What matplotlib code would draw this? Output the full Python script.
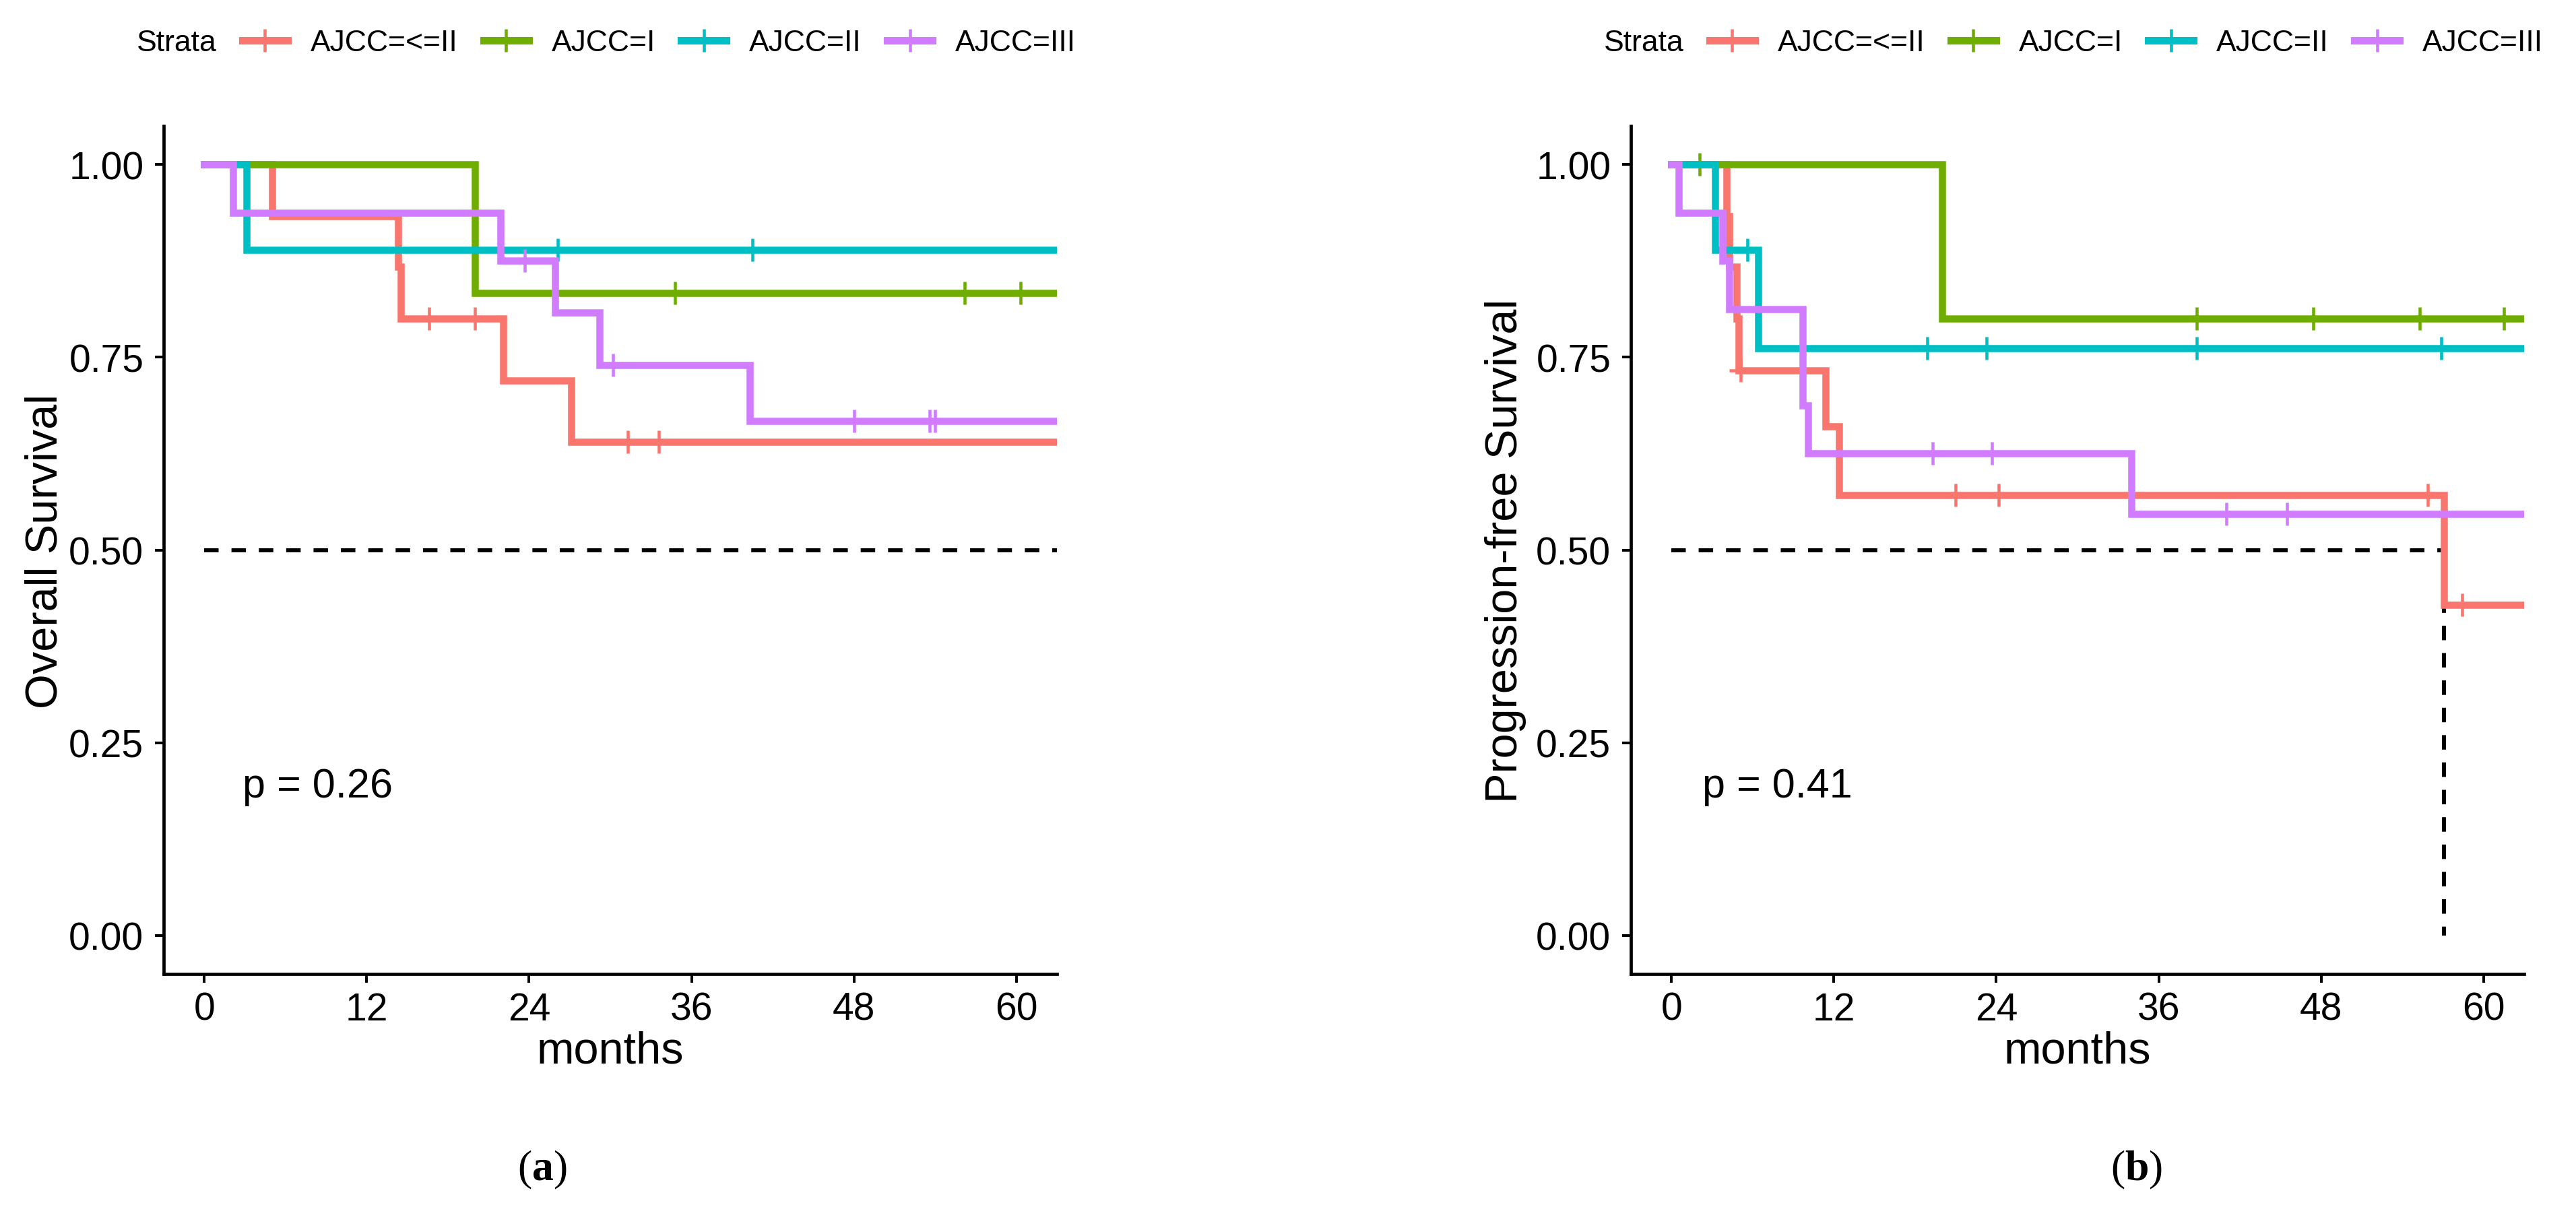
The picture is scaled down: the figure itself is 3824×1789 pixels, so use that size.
import numpy as np
import matplotlib.pyplot as plt
from matplotlib.lines import Line2D

plt.rcParams['font.family'] = ['Liberation Sans', 'DejaVu Sans']
plt.rcParams['mathtext.fontset'] = 'custom'
plt.rcParams['mathtext.rm'] = 'Liberation Serif'
plt.rcParams['mathtext.bf'] = 'Liberation Serif:bold'

W, H = 3824, 1790
DPI = 100

strata = ['AJCC=<=II', 'AJCC=I', 'AJCC=II', 'AJCC=III']
colors = ['#F8766D', '#6FAE00', '#00BFC4', '#D17CFF']

# overall survival: times of the steps and survival after each step
os_times = [
    [0, 5.0, 14.3, 14.5, 22.1, 27.1],
    [0, 20.0],
    [0, 3.1],
    [0, 2.15, 21.9, 25.9, 29.2, 40.3],
]
os_surv = [
    [1.0, 0.933, 0.867, 0.800, 0.720, 0.640],
    [1.0, 0.833],
    [1.0, 0.889],
    [1.0, 0.9375, 0.875, 0.808, 0.740, 0.667],
]
os_cens = [
    [16.6, 20.0, 31.3, 33.6],
    [34.8, 56.2, 60.3],
    [26.1, 40.5],
    [23.7, 30.2, 48.0, 53.6, 54.0],
]

# progression-free survival
pfs_times = [
    [0, 4.05, 4.25, 4.8, 4.97, 11.4, 12.4, 57.1],
    [0, 20.0],
    [0, 3.2, 6.4],
    [0, 0.55, 3.75, 4.25, 9.7, 10.1, 34.0],
]
pfs_surv = [
    [1.0, 0.933, 0.867, 0.800, 0.733, 0.660, 0.571, 0.429],
    [1.0, 0.800],
    [1.0, 0.889, 0.762],
    [1.0, 0.9375, 0.875, 0.8125, 0.6875, 0.625, 0.547],
]
pfs_cens = [
    [5.1, 21.0, 24.2, 55.9, 58.4],
    [2.1, 38.8, 47.4, 55.3, 61.5],
    [5.6, 18.9, 23.3, 38.8, 56.9],
    [19.3, 23.7, 41.0, 45.5],
]

x_ticks = [0, 12, 24, 36, 48, 60]
y_ticks = [0.00, 0.25, 0.50, 0.75, 1.00]
pfs_median = 57.1


def step_value(times, surv, t):
    idx = np.searchsorted(times, t, side='right') - 1
    return np.array(surv)[idx]


def draw_km(ax, times, surv, cens, pval, pval_x):
    for i in range(len(strata)):
        t = list(times[i]) + [70]
        s = list(surv[i]) + [surv[i][-1]]
        ax.plot(t, s, drawstyle='steps-post', color=colors[i], lw=7.6,
                solid_joinstyle='miter', zorder=3 + i)
        cy = step_value(times[i], surv[i], cens[i])
        ax.plot(cens[i], cy, ls='none', marker='+', markersize=25, mew=3.3,
                color=colors[i], zorder=3 + i)
    ax.set_xlim(-3, 63)
    ax.set_ylim(-0.05, 1.05)
    ax.set_xticks(x_ticks)
    ax.set_yticks(y_ticks)
    ax.set_yticklabels(['%.2f' % v for v in y_ticks])
    for s in ['top', 'right']:
        ax.spines[s].set_visible(False)
    for s in ['left', 'bottom']:
        ax.spines[s].set_linewidth(3.4)
        ax.spines[s].set_color('black')
    ax.tick_params(axis='both', length=9.4, width=2.9, labelsize=41, colors='black')
    ax.tick_params(axis='y', pad=12)
    ax.tick_params(axis='x', pad=9)
    ax.text(pval_x, 0.193, pval, fontsize=44, ha='left', va='center')


fig = plt.figure(figsize=(W / DPI, H / DPI), dpi=DPI)

panels = [
    (243, os_times, os_surv, os_cens, 'Overall Survival', 'p = 0.26', 2.8, 68, 805, 'a'),
    (2421, pfs_times, pfs_surv, pfs_cens, 'Progression-free Survival', 'p = 0.41', 2.3, 2235, 3172, 'b'),
]

for left, tm, sv, cn, ylab, pv, pvx, ylab_x, cap_x, letter in panels:
    ax = fig.add_axes([left / W, 1 - 1447 / H, 1326 / W, (1447 - 188) / H])
    draw_km(ax, tm, sv, cn, pv, pvx)
    if letter == 'a':
        ax.plot([0, 70], [0.5, 0.5], color='black', lw=4.3, ls=(0, (3.6, 3.2)), zorder=2)
    else:
        ax.plot([0, pfs_median, pfs_median], [0.5, 0.5, 0.0], color='black', lw=4.3,
                ls=(0, (3.6, 3.2)), zorder=2)

    fig.text(ylab_x / W, 1 - 818 / H, ylab, fontsize=48, rotation=90, ha='center', va='center')
    fig.text((left + 663) / W, 1 - 1562 / H, 'months', fontsize=48, ha='center', va='center')

    off = left - 243
    fig.text((203 + off) / W, 1 - 65 / H, 'Strata', fontsize=32, ha='left', va='center')
    handles = [Line2D([], [], color=c, lw=8, marker='+', markersize=24, mew=3.3) for c in colors]
    fig.legend(handles, strata, loc='center left', bbox_to_anchor=((360 + off) / W, 1 - 65 / H),
               ncol=4, frameon=False, fontsize=32, handlelength=1.5, handletextpad=0.77,
               columnspacing=0.86, borderpad=0, borderaxespad=0)

    fig.text(cap_x / W, 1 - 1737 / H, r'($\mathbf{%s}$)' % letter, fontsize=46,
             ha='center', va='center', family='Liberation Serif')

fig.savefig('out.png', dpi=DPI)
